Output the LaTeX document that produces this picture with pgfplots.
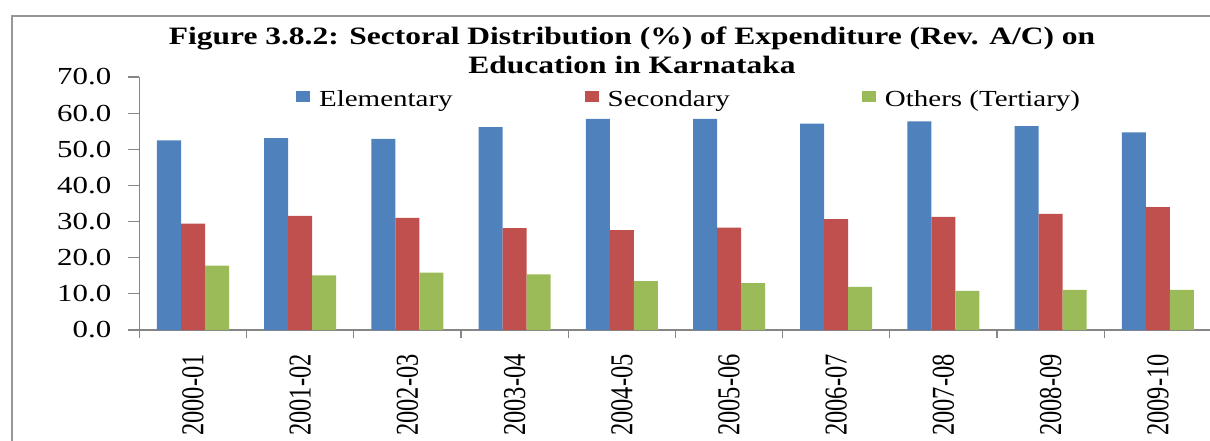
\documentclass[border=0pt]{standalone}
\usepackage{fontspec}
\setmainfont{Liberation Serif}[FakeStretch=1.26]
\newfontfamily\plainserif{Liberation Serif}
\usepackage{graphicx}
\usepackage{pgfplots}
\pgfplotsset{compat=1.18}
\definecolor{cblue}{RGB}{79,129,189}
\definecolor{cred}{RGB}{192,80,77}
\definecolor{cgreen}{RGB}{155,187,89}
\definecolor{axgray}{RGB}{134,134,134}
\definecolor{framegray}{RGB}{150,150,150}
\newcommand\vs[1]{\scalebox{1}[1.3]{#1}}
\begin{document}
\begin{tikzpicture}
\begin{axis}[
  at={(0,0)}, anchor=south west,
  scale only axis, width=1072bp, height=253bp,
  xmin=-0.5, xmax=9.5, ymin=0, ymax=70,
  ybar=0pt, bar width=24bp,
  clip=false,
  axis x line*=bottom, axis y line*=left,
  axis line style={axgray, line width=1.2bp},
  tick align=outside,
  ytick={0,10,...,70},
  major tick length=11bp, minor tick length=8bp,
  tick style={axgray, line width=1.2bp},
  major x tick style={draw=none},
  xtick={0,...,9},
  minor xtick={-0.5,0.5,...,9.5},
  xticklabels={\vs{2000-01},\vs{2001-02},\vs{2002-03},\vs{2003-04},\vs{2004-05},\vs{2005-06},\vs{2006-07},\vs{2007-08},\vs{2008-09},\vs{2009-10}},
  xticklabel style={rotate=90, anchor=east, inner sep=0pt, xshift=-13bp, font=\plainserif\fontsize{24.5bp}{26bp}\selectfont},
  yticklabel style={anchor=east, inner sep=0pt, xshift=-17bp, font=\fontsize{24.5bp}{28bp}\selectfont,
    /pgf/number format/fixed, /pgf/number format/fixed zerofill, /pgf/number format/precision=1},
  /pgf/number format/assume math mode=true,
  legend style={at={(0.146,0.913)}, anchor=west, draw=none, fill=none, inner sep=0pt,
    font=\fontsize{23bp}{25bp}\selectfont,
    /tikz/every odd column/.append style={column sep=7bp},
    /tikz/every even column/.append style={column sep=130bp}},
  legend columns=3,
  legend cell align=left,
]
\addplot[fill=cblue, draw=none, legend image code/.code={\fill[cblue] (0bp,-3bp) rectangle (14bp,8bp);}]
  coordinates {(0,52.5) (1,53.1) (2,52.9) (3,56.1) (4,58.4) (5,58.4) (6,57.1) (7,57.7) (8,56.4) (9,54.7)};
\addplot[fill=cred, draw=none, legend image code/.code={\fill[cred] (0bp,-3bp) rectangle (14bp,8bp);}]
  coordinates {(0,29.4) (1,31.6) (2,31.0) (3,28.2) (4,27.6) (5,28.3) (6,30.7) (7,31.3) (8,32.1) (9,34.0)};
\addplot[fill=cgreen, draw=none, legend image code/.code={\fill[cgreen] (0bp,-3bp) rectangle (14bp,8bp);}]
  coordinates {(0,17.8) (1,15.1) (2,15.9) (3,15.4) (4,13.5) (5,13.0) (6,11.9) (7,10.8) (8,11.1) (9,11.1)};
\legend{Elementary, Secondary, Others (Tertiary)}
\node[anchor=base, font=\fontsize{25bp}{28bp}\selectfont\bfseries] at (rel axis cs:0.4595,1.1265)
  {Figure 3.8.2: Sectoral Distribution (\%) of Expenditure (Rev. A/C) on};
\node[anchor=base, font=\fontsize{25bp}{28bp}\selectfont\bfseries] at (rel axis cs:0.4595,1.0119)
  {Education in Karnataka};
\draw[framegray, line width=2bp] (rel axis cs:-0.1188,-0.6) |- (rel axis cs:1.2,1.241);
\end{axis}
\pgfresetboundingbox
\path[use as bounding box] (-139.4bp,-111bp) rectangle (1070.6bp,330bp);
\end{tikzpicture}
\end{document}
